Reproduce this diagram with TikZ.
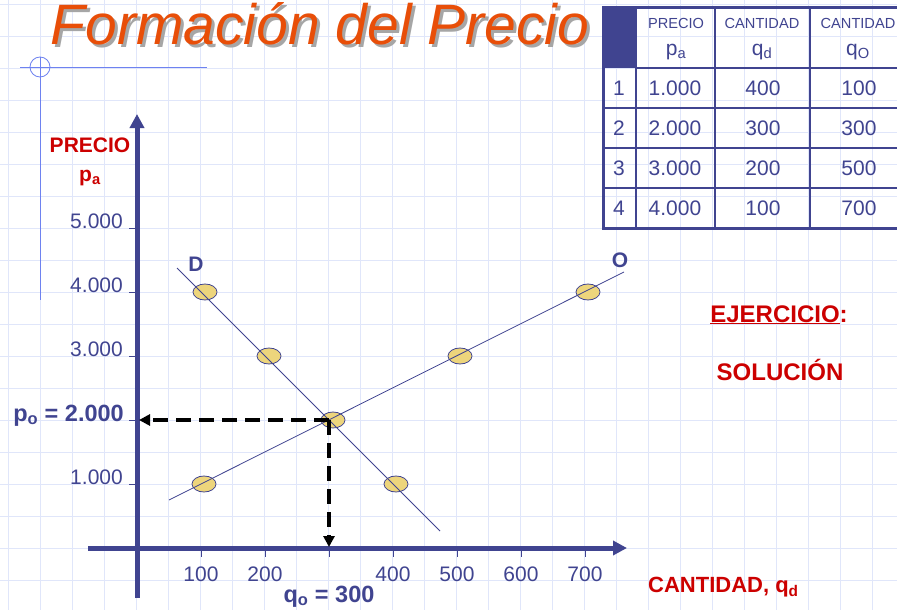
\documentclass[tikz,border=0pt]{standalone}
\usepackage{fontspec}
\setmainfont{Liberation Sans}
\usetikzlibrary{arrows.meta,shapes.geometric}

\definecolor{navy}{RGB}{64,68,144}
\definecolor{titlered}{RGB}{232,78,8}
\definecolor{labred}{RGB}{204,0,0}
\definecolor{gridblue}{RGB}{224,230,250}
\definecolor{dotfill}{RGB}{237,213,124}
\definecolor{markblue}{RGB}{110,130,240}

\tikzset{
  gridline/.style={gridblue, line width=0.9pt},
  axisline/.style={navy, line width=5pt, -{Triangle[length=14pt,width=14pt]}},
  tickmark/.style={navy, line width=0.8pt},
  curve/.style={navy, line width=0.8pt},
  dot/.style={ellipse, draw=navy, fill=dotfill, line width=0.8pt, minimum width=24pt, minimum height=16pt, inner sep=0pt},
  guide/.style={black, line width=3.6pt, dash pattern=on 15pt off 8pt, -{Triangle[length=11pt,width=11pt]}},
  ticklabel/.style={navy, inner sep=0pt, font=\fontsize{21}{23}\selectfont},
  boldnavy/.style={navy, inner sep=0pt, font=\fontsize{23.5}{26}\selectfont\bfseries},
  boldred/.style={labred, inner sep=0pt, font=\fontsize{21}{23}\selectfont\bfseries},
  tabletext/.style={navy, inner sep=0pt, font=\fontsize{21}{23}\selectfont},
  tablehead/.style={navy, inner sep=0pt, font=\fontsize{14.6}{16}\selectfont},
}

\begin{document}
\begin{tikzpicture}[x=1pt, y=-1pt]
\useasboundingbox[fill=white] (0,0) rectangle (897,610);

\foreach \gx in {0,...,27}
  \draw[gridline] (8+32*\gx,0) -- (8+32*\gx,610);
\foreach \gy in {0,...,18}
  \draw[gridline] (0,4+32*\gy) -- (897,4+32*\gy);

\node[anchor=base, gray!70, font=\fontsize{57}{61}\selectfont\itshape] (titleshadow) at (323,48) {Formación del Precio};
\node[anchor=base, titlered, font=\fontsize{57}{61}\selectfont\itshape] (title) at (320,45) {Formación del Precio};

\draw[markblue, line width=0.8pt] (20,67) -- (207,67);
\draw[markblue, line width=0.8pt] (40,57) -- (40,300);
\draw[markblue, line width=0.8pt] (40,67) circle (10);

\fill[navy] (603,8) rectangle (636,68);
\draw[navy, line width=1.5pt] (636,68) -- (900,68) (603,108) -- (900,108) (603,148) -- (900,148) (603,188) -- (900,188);
\draw[navy, line width=1.5pt] (636,8) -- (636,228) (715,8) -- (715,228) (810,8) -- (810,228);
\draw[navy, line width=3pt] (900,8) -- (603,8) -- (603,228) -- (900,228);
\node[tablehead] (hprecio) at (676,23) {PRECIO};
\node[tablehead] (hdemanda) at (762,23) {CANTIDAD};
\node[tablehead] (hoferta) at (858,23) {CANTIDAD};
\node[tabletext] (hpa) at (676,52) {p\textsubscript{a}};
\node[tabletext] (hqd) at (762,52) {q\textsubscript{d}};
\node[tabletext] (hqo) at (858,52) {q\textsubscript{O}};
\foreach \row/\pa/\qd/\qo in {1/1.000/400/100, 2/2.000/300/300, 3/3.000/200/500, 4/4.000/100/700} {
  \node[tabletext] (n\row) at (619,48+40*\row) {\row};
  \node[tabletext] (pa\row) at (675,48+40*\row) {\pa};
  \node[tabletext] (qd\row) at (763,48+40*\row) {\qd};
  \node[tabletext] (qo\row) at (859,48+40*\row) {\qo};
}

\coordinate (ybot) at (137,598);
\coordinate (ytop) at (137,114);
\coordinate (xleft) at (88,548);
\coordinate (xright) at (627,548);
\draw[axisline] (ybot) -- (ytop);
\draw[axisline] (xleft) -- (xright);

\foreach \val/\py in {1.000/484, 3.000/356, 4.000/292, 5.000/228} {
  \draw[tickmark] (129,\py) -- (137,\py);
  \node[ticklabel, anchor=base east] (y\py) at (123,\py) {\val};
}
\draw[tickmark] (129,420) -- (137,420);
\foreach \val/\px in {100/201, 200/265, 400/393, 500/457, 600/521, 700/585} {
  \draw[tickmark] (\px,548) -- (\px,557);
  \node[ticklabel, anchor=base] (x\px) at (\px,581) {\val};
}
\draw[tickmark] (329,548) -- (329,557);

\node[boldred] (precio) at (90,145) {PRECIO};
\node[boldred, anchor=base] (precioa) at (90,181) {p\textsubscript{a}};

\node[dot] (d4) at (205,292) {};
\node[dot] (d3) at (269,356) {};
\node[dot] (eq) at (333,420) {};
\node[dot] (d1) at (396,484) {};
\node[dot] (s1) at (204,484) {};
\node[dot] (s3) at (460,356) {};
\node[dot] (s4) at (588,292) {};

\coordinate (dstart) at (177,268);
\coordinate (dend) at (440,531);
\coordinate (ostart) at (169,500);
\coordinate (oend) at (624,272);
\draw[curve] (dstart) -- (dend);
\draw[curve] (ostart) -- (oend);

\node[boldnavy, font=\fontsize{21}{23}\selectfont\bfseries] (dlabel) at (196,264) {D};
\node[boldnavy, font=\fontsize{21}{23}\selectfont\bfseries] (olabel) at (620,260) {O};

\coordinate (peq) at (139,420);
\coordinate (qeq) at (329,547);
\draw[guide] (329,420) -- (peq);
\draw[guide] (329,420) -- (qeq);

\node[boldnavy, anchor=base east] (pzero) at (124,421) {p\textsubscript{o} = 2.000};
\node[boldnavy, anchor=base] (qzero) at (329,602) {q\textsubscript{o} = 300};

\node[boldred, font=\fontsize{22}{24}\selectfont\bfseries, anchor=base west] (cantidad) at (648,592) {CANTIDAD, q\textsubscript{d}};
\node[boldred, font=\fontsize{24}{26}\selectfont\bfseries, anchor=base] (ejercicio) at (779,322) {\underline{EJERCICIO}:};
\node[boldred, font=\fontsize{24}{26}\selectfont\bfseries, anchor=base] (solucion) at (780,380) {SOLUCIÓN};
\end{tikzpicture}
\end{document}
